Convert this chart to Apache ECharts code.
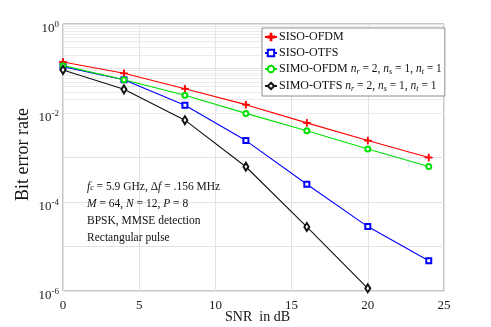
<!DOCTYPE html>
<html>
<head>
<meta charset="utf-8">
<script src="https://cdn.jsdelivr.net/npm/echarts@6/dist/echarts.min.js"></script>
<style>html,body{margin:0;padding:0;background:#fff}#main{width:491px;height:327px}</style>
</head>
<body>
<div id="main"></div>
<script>
const snr = [0, 4, 8, 12, 16, 20, 24]
const sisoOfdm = [0.14, 0.078, 0.035, 0.0154, 0.006, 0.0024, 0.001]
const sisoOtfs = [0.11, 0.056, 0.015, 0.0024, 0.00025, 0.000028, 0.0000048]
const simoOfdm = [0.116, 0.056, 0.025, 0.0098, 0.004, 0.00155, 0.00063]
const simoOtfs = [0.093, 0.034, 0.0069, 0.00062, 0.0000275, 0.00000115]
const xTicks = [0, 5, 10, 15, 20, 25]

const serif = 'Liberation Serif'
const pair = (ys) => ys.map((y, i) => [snr[i], y])

// minor grid lines of the log axis (2..9 per decade)
const minorLines = []
for (let d = -6; d < 0; d++) {
  for (let k = 2; k <= 9; k++) minorLines.push({ yAxis: k * Math.pow(10, d) })
}

const chart = echarts.init(document.getElementById('main'))

const lineSeries = (name, data, color, symbol, size) => ({
  name, type: 'line', data: pair(data),
  symbol, symbolSize: size,
  lineStyle: { color, width: 1.1 },
  itemStyle: { color, borderColor: color, borderWidth: 1 },
  z: 5
})

chart.setOption({
  animation: false,
  backgroundColor: '#fff',
  grid: {
    left: 63, right: 47, top: 24, bottom: 36, outerBoundsMode: 'none',
    show: true, borderColor: '#8c8c8c', borderWidth: 1
  },
  xAxis: {
    type: 'value', min: 0, max: 25, interval: 5,
    axisLine: { show: false },
    axisTick: { show: false },
    axisLabel: { fontFamily: serif, fontSize: 13, color: '#222', margin: 8 },
    splitLine: { lineStyle: { color: '#e3e3e3' } },
    name: 'SNR  in dB', nameLocation: 'middle', nameGap: 19, nameMoveOverlap: false,
    nameTextStyle: { fontFamily: serif, fontSize: 14, color: '#111', padding: [0, 0, 0, 8] }
  },
  yAxis: {
    type: 'log', logBase: 10, min: 1e-6, max: 1,
    axisLine: { show: false },
    axisTick: { show: false },
    axisLabel: {
      margin: 4,
      padding: [10, 0, 0, 0],
      verticalAlignMinLabel: 'middle',
      verticalAlignMaxLabel: 'middle',
      formatter: (v) => {
        const e = Math.round(Math.log10(v))
        if (e % 2 !== 0) return ''
        return '{b|10}{s|' + e + '}'
      },
      rich: {
        b: { fontFamily: serif, fontSize: 13, color: '#222' },
        s: { fontFamily: serif, fontSize: 9, color: '#222', verticalAlign: 'bottom', padding: [0, 0, 9, 0] }
      }
    },
    splitLine: { lineStyle: { color: '#e3e3e3' } },
    name: 'Bit error rate', nameLocation: 'middle', nameGap: 31, nameMoveOverlap: false,
    nameTextStyle: { fontFamily: serif, fontSize: 18, color: '#111', padding: [0, 0, 0, 6] }
  },
  legend: {
    data: ['SISO-OFDM', 'SISO-OTFS', 'SIMO-OFDM', 'SIMO-OTFS'],
    orient: 'vertical', left: 262, top: 28,
    itemWidth: 12, itemHeight: 8, itemGap: 4,
    padding: [3, 3, 3, 2],
    backgroundColor: '#fff', borderColor: '#8c8c8c', borderWidth: 1,
    formatter: (name) => name.startsWith('SIMO')
      ? name + ' {i|n}{sub|r}{m| = 2, }{i|n}{sub|s}{m| = 1, }{i|n}{sub|t}{m| = 1}'
      : name,
    textStyle: {
      fontFamily: serif, fontSize: 12, color: '#111', padding: [0, 0, 0, -3],
      rich: {
        m: { fontFamily: serif, fontSize: 11.5, color: '#111' },
        i: { fontFamily: serif, fontStyle: 'italic', fontSize: 11.5, color: '#111' },
        sub: { fontFamily: serif, fontStyle: 'italic', fontSize: 8, color: '#111', verticalAlign: 'top', padding: [6, 0, 0, 0] }
      }
    }
  },
  graphic: [{
    type: 'text', left: 87, top: 178, z: 10,
    style: {
      text: '{i|f}{sub|c} = 5.9 GHz, Δ{i|f} = .156 MHz\n{i|M} = 64, {i|N} = 12, {i|P} = 8\nBPSK, MMSE detection\nRectangular pulse',
      fontFamily: serif, fontSize: 11.5, fill: '#111', lineHeight: 17,
      rich: {
        i: { fontFamily: serif, fontStyle: 'italic', fontSize: 11.5, lineHeight: 17 },
        sub: { fontFamily: serif, fontStyle: 'italic', fontSize: 8, verticalAlign: 'top', padding: [6, 0, 0, 0], lineHeight: 17 }
      }
    }
  }],
  series: [
    {
      name: 'minor', type: 'line', data: [], silent: true, z: 1,
      markLine: {
        silent: true, symbol: 'none', label: { show: false }, z: 1,
        lineStyle: { color: '#ebebeb', width: 1, type: 'solid' },
        data: minorLines
      }
    },
    lineSeries('SISO-OFDM', sisoOfdm, '#ff0000', 'path://M4.4,0H5.6V4.4H10V5.6H5.6V10H4.4V5.6H0V4.4H4.4Z', 7),
    lineSeries('SISO-OTFS', sisoOtfs, '#0000ff', 'emptyRect', 5),
    lineSeries('SIMO-OFDM', simoOfdm, '#00e000', 'emptyCircle', 5),
    lineSeries('SIMO-OTFS', simoOtfs, '#111111', 'emptyDiamond', [5, 8])
  ]
})
</script>
</body>
</html>
